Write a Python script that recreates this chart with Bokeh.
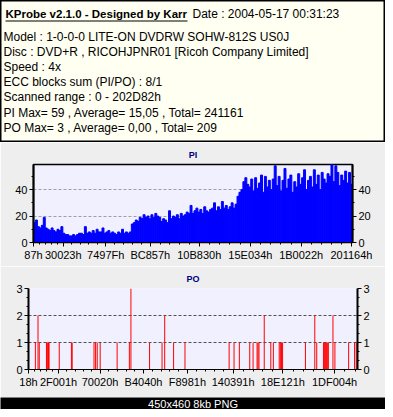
from bokeh.plotting import figure
from bokeh.layouts import column
from bokeh.models import Range1d, FixedTicker, LinearAxis, ColumnDataSource
from bokeh.core.properties import value
from bokeh.embed import file_html
from bokeh.resources import INLINE

# ---------------- data ----------------
header_title = "KProbe v2.1.0 - Designed by Karr"
header_date = "Date : 2004-05-17 00:31:23"
header_lines = [
    "Model : 1-0-0-0 LITE-ON DVDRW SOHW-812S  US0J",
    "Disc : DVD+R , RICOHJPNR01 [Ricoh Company Limited]",
    "Speed : 4x",
    "ECC blocks sum (PI/PO) : 8/1",
    "Scanned range : 0 - 202D82h",
    "PI Max= 59 , Average= 15,05 , Total= 241161",
    "PO Max= 3 , Average= 0,00 , Total= 209",
]
footer_text = "450x460 8kb PNG"

scan_end = 0x202D82

pi_tick_labels = ["87h", "30023h", "7497Fh", "BC857h", "10B830h", "15E034h", "1B0022h", "201164h"]
po_tick_labels = ["18h", "2F001h", "70020h", "B4040h", "F8981h", "140391h", "18E121h", "1DF004h"]

pi_values = [
    15, 17, 12, 11, 13, 19, 11, 10, 9, 11,
    9, 8, 10, 9, 12, 7, 6, 6, 5, 5,
    6, 5, 6, 7, 7, 6, 12, 7, 8, 7,
    9, 7, 10, 8, 8, 11, 7, 8, 9, 7,
    8, 7, 6, 8, 7, 10, 7, 8, 7, 8,
    14, 15, 17, 16, 19, 18, 21, 19, 20, 18,
    21, 19, 22, 20, 19, 16, 18, 17, 15, 24,
    18, 20, 19, 21, 18, 22, 20, 21, 23, 22,
    28, 22, 24, 26, 23, 25, 22, 27, 24, 23,
    25, 26, 30, 24, 27, 25, 31, 26, 28, 25,
    27, 30, 26, 29, 35, 38, 40, 46, 49, 44,
    42, 48, 39, 49, 41, 45, 51, 38, 50, 42,
    47, 40, 48, 58, 43, 50, 39, 47, 56, 41,
    48, 51, 38, 46, 42, 52, 44, 49, 55, 40,
    47, 50, 42, 55, 44, 51, 40, 53, 48, 45,
    52, 50, 59, 46, 58, 53, 43, 51, 47, 54,
    45, 53, 44,
]

po_lba = [
    24, 44000, 61000, 69000, 115000, 119500, 124000, 128000, 132000, 197000,
    275000, 280000, 420000, 430000, 440500, 459500, 568000, 646500, 656500, 776000,
    856000, 873000, 930000, 1003000, 1286000, 1317500, 1351500, 1418000, 1439500, 1465000,
    1471000, 1477500, 1511000, 1553000, 1569500, 1607000, 1614500, 1622000, 1628500, 1775000,
    1835000, 1847500, 1890500, 1896500, 1903000, 1909500, 1915500, 1922000, 1951500, 1964000,
    2052000, 2090000, 2100500,
]
po_values = [
    2, 1, 2, 1, 1, 1, 1, 1, 1, 1,
    1, 1, 1, 1, 1, 1, 1, 1, 3, 1,
    1, 2, 1, 1, 1, 1, 1, 1, 1, 1,
    1, 1, 2, 1, 1, 1, 1, 1, 1, 1,
    2, 1, 1, 1, 1, 1, 1, 1, 2, 1,
    1, 1, 1,
]

pi_y_ticks = [0, 20, 40]
po_y_ticks = [0, 1, 2, 3]

# ---------------- layout constants ----------------
W = 385
FONT = "Liberation Sans"
PANEL_BG = "#EEEEEE"
PLOT_BG = "#F0F0FF"


def hex_ticks(labels):
    return [int(s[:-1], 16) for s in labels]


def minor_between(majors, end, n=5):
    out = []
    for a, b in zip(majors[:-1], majors[1:]):
        st = (b - a) / n
        out += [a + st * k for k in range(1, n)]
    st = (majors[-1] - majors[-2]) / n
    v = majors[-1] + st
    while v <= end:
        out.append(v)
        v += st
    return out


def style_axis(ax):
    ax.axis_line_color = "black"
    ax.major_tick_line_color = "black"
    ax.minor_tick_line_color = "black"
    ax.major_tick_out = 4
    ax.major_tick_in = 0
    ax.minor_tick_out = 2
    ax.minor_tick_in = 0
    ax.major_label_text_font = FONT
    ax.major_label_text_font_size = "11px"
    ax.major_label_text_color = "black"
    ax.major_label_standoff = 2


# ---------------- header ----------------
HH = 142
hdr = figure(width=W, height=HH, x_range=Range1d(0, W), y_range=Range1d(HH, 0),
             x_axis_location=None, y_axis_location=None, toolbar_location=None,
             output_backend="svg", min_border=0, frame_align=False,
             background_fill_color="#FFFFF2", border_fill_color="#FFFFF2",
             outline_line_color="black", outline_line_width=2)
hdr.grid.visible = False
hdr.text(x=[5], y=[13.5], text=[header_title], text_font=value(FONT),
         text_font_style="bold", text_font_size="11.5px", text_baseline="middle",
         text_color="black")
hdr.segment(x0=[5], x1=[187], y0=[20.5], y1=[20.5], line_color="black", line_width=1)
hdr.text(x=[192], y=[13.5], text=[header_date], text_font=value(FONT),
         text_font_size="12px", text_baseline="middle", text_color="black")
hsrc = ColumnDataSource(dict(x=[3] * len(header_lines),
                             y=[36.5 + 15.1 * i for i in range(len(header_lines))],
                             t=header_lines))
hdr.text(x="x", y="y", text="t", source=hsrc, text_font=value(FONT),
         text_font_size="12px", text_baseline="middle", text_color="black")


def make_chart(title, height, top, bottom, side, yr, yticks, yminor, xlabels,
               gridticks, grid_color):
    p = figure(width=W, height=height, x_range=Range1d(0, scan_end), y_range=yr,
               toolbar_location=None, output_backend="svg", frame_align=False,
               min_border_left=side, min_border_right=side,
               min_border_top=top, min_border_bottom=bottom,
               background_fill_color=PLOT_BG, border_fill_color=PANEL_BG,
               title=title)
    p.title.align = "center"
    p.title.text_font = FONT
    p.title.text_font_size = "9px"
    p.title.text_font_style = "bold"
    p.title.text_color = "#000080"
    xt = hex_ticks(xlabels)
    p.xaxis.ticker = FixedTicker(ticks=xt, minor_ticks=minor_between(xt, scan_end))
    p.xaxis.major_label_overrides = {t: l for t, l in zip(xt, xlabels)}
    p.yaxis.ticker = FixedTicker(ticks=yticks, minor_ticks=yminor)
    ra = LinearAxis(ticker=FixedTicker(ticks=yticks, minor_ticks=yminor))
    p.add_layout(ra, "right")
    for ax in p.axis:
        style_axis(ax)
    for ax in p.yaxis:
        ax.axis_line_width = 2
    p.xgrid.visible = False
    p.ygrid.ticker = FixedTicker(ticks=gridticks)
    p.ygrid.grid_line_color = grid_color
    p.ygrid.grid_line_dash = "3 2"
    return p


pi = make_chart("PI", 124, 19, 24, 33, Range1d(0, 59), pi_y_ticks, [10, 30, 50],
                pi_tick_labels, [20, 40], "#A0A0A0")
pi.outline_line_color = "black"
pi.outline_line_width = 1.5
step = scan_end / len(pi_values)
pi_x = [step * (i + 0.5) for i in range(len(pi_values))]
pi.vbar(x=pi_x, top=pi_values, width=step, fill_color="#0000FF",
        line_color="#0000FF", line_width=1)

po = make_chart("PO", 131, 21, 28, 28, Range1d(0, 3), po_y_ticks,
                [1 / 3, 2 / 3, 4 / 3, 5 / 3, 7 / 3, 8 / 3],
                po_tick_labels, [1, 2, 3], "#505050")
po.outline_line_color = None
po.vbar(x=po_lba, top=po_values, width=6400, fill_color="#FF0000",
        line_color=None)

# ---------------- footer ----------------
ft = figure(width=W, height=12, x_range=Range1d(0, W), y_range=Range1d(0, 12),
            x_axis_location=None, y_axis_location=None, toolbar_location=None,
            output_backend="svg", min_border=0, frame_align=False,
            background_fill_color="black", border_fill_color="black",
            outline_line_color=None)
ft.grid.visible = False
ft.text(x=[W / 2], y=[6], text=[footer_text], text_font=value(FONT),
        text_font_size="11px", text_align="center", text_baseline="middle",
        text_color="white")

layout = column(hdr, pi, po, ft, spacing=0)
open("out.html", "w").write(file_html(layout, INLINE))
